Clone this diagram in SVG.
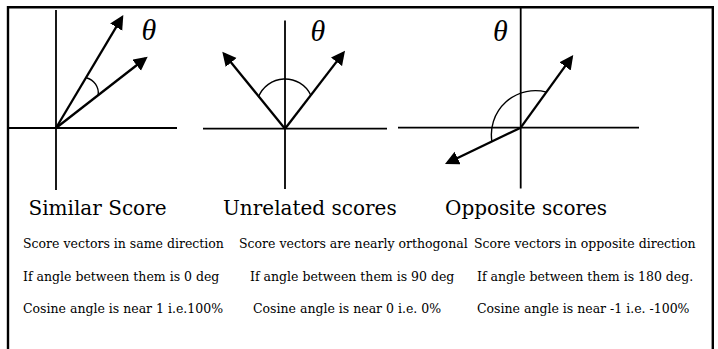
<svg xmlns="http://www.w3.org/2000/svg" width="718" height="349" viewBox="0 0 718 349">
<defs>
<marker id="ah" markerUnits="userSpaceOnUse" viewBox="0 0 15 15" markerWidth="15" markerHeight="15" refX="11" refY="7" orient="auto"><path d="M0,0 L14,7 L0,14 Z" fill="#000"/></marker>
</defs>
<style>
.axis{stroke:#000;stroke-width:1.8;fill:none}
.vec{stroke:#000;stroke-width:2.3;fill:none;marker-end:url(#ah)}
.arc{stroke:#000;stroke-width:1.4;fill:none}
.theta{font-family:"Liberation Serif","Times New Roman",serif;font-style:italic;font-size:30px;fill:#000}
.title{font-family:"DejaVu Serif",serif;font-size:20px;fill:#000}
.desc{font-family:"DejaVu Serif",serif;font-size:12.5px;fill:#000}
</style>
<rect x="0" y="0" width="718" height="349" fill="#fff"/>
<g id="frame">
<path d="M 8 349 V 7.2 H 712.8 V 349" fill="none" stroke="#000" stroke-width="2.4"/>
</g>
<g id="diagram-similar">
<line class="axis" x1="56" y1="10" x2="56" y2="190"/>
<line class="axis" x1="8" y1="128" x2="177" y2="128"/>
<path class="arc" d="M 86.3 77.7 A 16 16 0 0 1 98.2 95.2"/>
<text class="theta" x="141.5" y="40">θ</text>
</g>
<g id="diagram-unrelated">
<line class="axis" x1="285" y1="20.5" x2="285" y2="189"/>
<line class="axis" x1="203" y1="128.7" x2="387" y2="128.7"/>
<path class="arc" d="M 258.3 97.3 A 28.6 28.6 0 0 1 310.7 95"/>
<text class="theta" x="310.5" y="40.5">θ</text>
</g>
<g id="diagram-opposite">
<line class="axis" x1="520.7" y1="7" x2="520.7" y2="188.5"/>
<line class="axis" x1="398" y1="127.7" x2="639" y2="127.7"/>
<path class="arc" d="M 546.5 92.1 A 44 44 0 0 0 491.9 141.5"/>
<text class="theta" x="493" y="40.5">θ</text>
</g>
<g id="connectors">
<line class="vec" x1="56" y1="128" x2="121.8" y2="17.6"/>
<line class="vec" x1="56" y1="128" x2="145.3" y2="58.5"/>
<line class="vec" x1="285" y1="128.7" x2="224.2" y2="54"/>
<line class="vec" x1="285" y1="128.7" x2="343.2" y2="53.1"/>
<line class="vec" x1="520.7" y1="127.7" x2="571.5" y2="57.4"/>
<line class="vec" x1="520.7" y1="127.7" x2="447.7" y2="162.7"/>
</g>
<g id="captions">
<text class="title" x="28.5" y="215">Similar Score</text>
<text class="title" x="223" y="215">Unrelated scores</text>
<text class="title" x="445" y="215">Opposite scores</text>
<text class="desc" x="23" y="248">Score vectors in same direction</text>
<text class="desc" x="23" y="280.5">If angle between them is 0 deg</text>
<text class="desc" x="23" y="312.5">Cosine angle is near 1 i.e.100%</text>
<text class="desc" x="239" y="248">Score vectors are nearly orthogonal</text>
<text class="desc" x="250" y="280.5">If angle between them is 90 deg</text>
<text class="desc" x="253" y="312.5">Cosine angle is near 0 i.e. 0%</text>
<text class="desc" x="474" y="248">Score vectors in opposite direction</text>
<text class="desc" x="477" y="280.5">If angle between them is 180 deg.</text>
<text class="desc" x="477" y="312.5">Cosine angle is near -1 i.e. -100%</text>
</g>
</svg>
